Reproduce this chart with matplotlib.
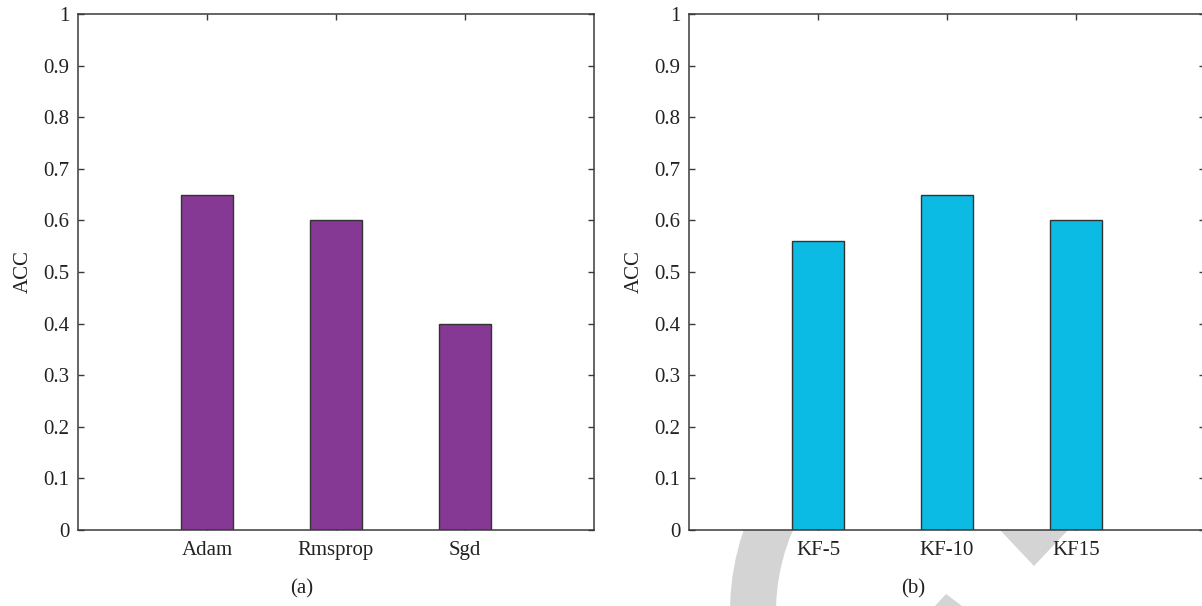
import matplotlib
matplotlib.use("Agg")
import matplotlib.pyplot as plt
from matplotlib.patches import Wedge, Polygon

# ---- data ----
optim_labels = ["Adam", "Rmsprop", "Sgd"]
optim_acc = [0.65, 0.60, 0.40]
kf_labels = ["KF-5", "KF-10", "KF15"]
kf_acc = [0.56, 0.65, 0.60]
yticks = [0, 0.1, 0.2, 0.3, 0.4, 0.5, 0.6, 0.7, 0.8, 0.9, 1]
ytick_labels = ["0", "0.1", "0.2", "0.3", "0.4", "0.5", "0.6", "0.7", "0.8", "0.9", "1"]

plt.rcParams['font.family'] = ['Liberation Serif', 'DejaVu Serif']

W, H = 1202, 606
fig = plt.figure(figsize=(W / 100, H / 100), dpi=100)
fig.patch.set_facecolor("white")

# watermark (decorative, drawn below axes)
def px(x, y):
    return (x / 100, (H - y) / 100)

wm = "#d4d4d4"
cx, cy = px(982, 612)
fig.patches.append(Wedge((cx, cy), 2.52, 115, 250, width=0.46, facecolor=wm,
                         edgecolor="none", transform=fig.dpi_scale_trans, zorder=-5))
fig.patches.append(Polygon([px(1000, 530), px(1068, 530), px(1034, 566)], closed=True,
                           facecolor=wm, edgecolor="none",
                           transform=fig.dpi_scale_trans, zorder=-5))
fig.patches.append(Polygon([px(935, 606), px(946, 594), px(962, 606)], closed=True,
                           facecolor=wm, edgecolor="none",
                           transform=fig.dpi_scale_trans, zorder=-5))

spine_col = "#3a3a3a"
text_col = "#222222"
fs = 15

def panel(rect, labels, vals, color, tag, tag_x):
    ax = fig.add_axes(rect)
    pos = list(range(1, len(labels) + 1))
    ax.bar(pos, vals, width=0.4, color=color, edgecolor="#333333", linewidth=1.0, zorder=2)
    ax.set_xlim(0, len(labels) + 1)
    ax.set_ylim(0, 1)
    ax.set_xticks(pos)
    ax.set_xticklabels(labels, fontsize=fs, color=text_col)
    ax.set_yticks(yticks)
    ax.set_yticklabels(ytick_labels, fontsize=fs, color=text_col)
    ax.tick_params(direction="in", length=4, width=1.0, color=spine_col,
                   top=True, right=True, pad=6)
    ax.tick_params(axis="x", pad=8)
    for s in ax.spines.values():
        s.set_color(spine_col)
        s.set_linewidth(1.1)
    ax.set_ylabel("ACC", fontsize=fs, color=text_col, labelpad=8)
    fig.text(tag_x / W, 1 - 589 / H, tag, fontsize=fs, color=text_col,
             ha="center", va="center")
    return ax

ax1 = panel([78 / W, 1 - 530 / H, 516 / W, 516 / H], optim_labels, optim_acc,
            "#853894", "(a)", 302)
ax2 = panel([689 / W, 1 - 530 / H, 516 / W, 516 / H], kf_labels, kf_acc,
            "#0cbbe3", "(b)", 913)

fig.savefig("out.png", dpi=100)
